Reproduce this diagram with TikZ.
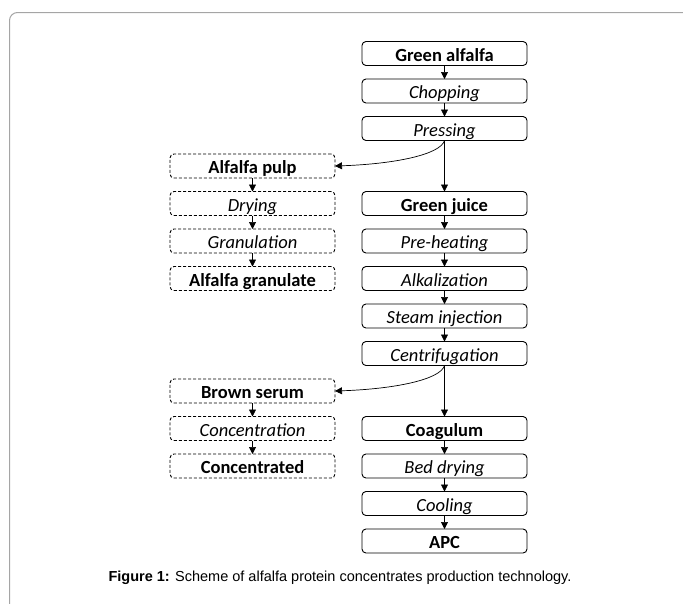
\documentclass[tikz,border=0pt]{standalone}
\usepackage{fontspec}
\setmainfont{Carlito}
\newfontfamily\captionfont{Liberation Sans}
\usetikzlibrary{arrows.meta,positioning}
\definecolor{framegray}{RGB}{165,165,165}
\newcommand{\boxfont}{\fontsize{18.5}{21}\selectfont}

\begin{document}
\begin{tikzpicture}[x=1pt,y=-1pt,
  stepbox/.style={draw,rounded corners=4pt,line width=0.9pt,minimum width=165pt,minimum height=24pt,
    inner sep=1pt,outer sep=0pt,text height=15.5pt,text depth=0pt},
  sidebox/.style={stepbox,dash pattern=on 3pt off 2pt},
  product/.style={font=\boxfont\bfseries},
  process/.style={font=\boxfont\itshape},
  flow/.style={-{Triangle[length=7pt,width=7pt]},line width=0.7pt},
  node distance=13.5pt]
  % page and frame
  \useasboundingbox (0,0) rectangle (683,603);
  \clip (0,0) rectangle (683,603);
  \draw[framegray,line width=1pt,rounded corners=8pt] (9.5,12.5) rectangle (720,640);
  % main line
  \node[stepbox,product] (alfalfa) at (444.5,53.5) {Green alfalfa};
  \node[stepbox,process,below=of alfalfa] (chop) {Chopping};
  \node[stepbox,process,below=of chop] (press) {Pressing};
  \node[stepbox,product,below=51pt of press] (juice) {Green juice};
  \node[stepbox,process,below=of juice] (heat) {Pre-heating};
  \node[stepbox,process,below=of heat] (alkali) {Alkalization};
  \node[stepbox,process,below=of alkali] (steam) {Steam injection};
  \node[stepbox,process,below=of steam] (centri) {Centrifugation};
  \node[stepbox,product,below=51pt of centri] (coag) {Coagulum};
  \node[stepbox,process,below=of coag] (bed) {Bed drying};
  \node[stepbox,process,below=of bed] (cool) {Cooling};
  \node[stepbox,product,below=of cool] (apc) {APC};
  % side lines
  \node[sidebox,process,left=27pt of juice] (dry) {Drying};
  \node[sidebox,product,above=of dry] (pulp) {Alfalfa pulp};
  \node[sidebox,process,below=of dry] (gran) {Granulation};
  \node[sidebox,product,below=of gran] (granulate) {Alfalfa granulate};
  \node[sidebox,process,left=27pt of coag] (conc) {Concentration};
  \node[sidebox,product,above=of conc] (serum) {Brown serum};
  \node[sidebox,product,below=of conc] (concd) {Concentrated};
  % arrows
  \draw[flow] (alfalfa) -- (chop); \draw[flow] (chop) -- (press);
  \draw[flow] (press) -- (juice); \draw[flow] (juice) -- (heat);
  \draw[flow] (heat) -- (alkali); \draw[flow] (alkali) -- (steam);
  \draw[flow] (steam) -- (centri); \draw[flow] (centri) -- (coag);
  \draw[flow] (coag) -- (bed); \draw[flow] (bed) -- (cool);
  \draw[flow] (cool) -- (apc);
  \draw[flow] (pulp) -- (dry); \draw[flow] (dry) -- (gran); \draw[flow] (gran) -- (granulate);
  \draw[flow] (serum) -- (conc); \draw[flow] (conc) -- (concd);
  \draw[flow] (press.south) .. controls +(-4,14) and +(60,-2) .. (pulp.east);
  \draw[flow] (centri.south) .. controls +(-4,14) and +(60,-2) .. (serum.east);
  % caption
  \node[font=\captionfont\fontsize{14.5}{17}\selectfont] (caption) at (340,578)
    {\textbf{Figure 1:} Scheme of alfalfa protein concentrates production technology.};
\end{tikzpicture}
\end{document}
